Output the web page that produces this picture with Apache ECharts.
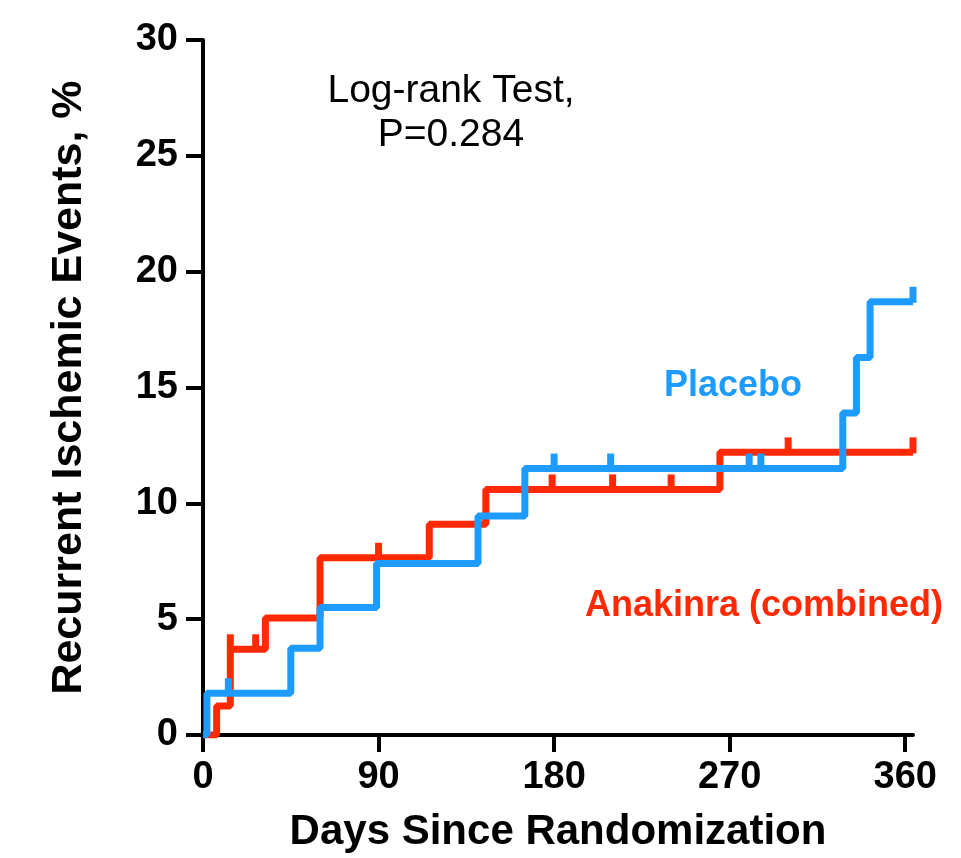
<!DOCTYPE html>
<html>
<head>
<meta charset="utf-8">
<script src="https://cdn.jsdelivr.net/npm/echarts@6/dist/echarts.min.js"></script>
<style>
html,body{margin:0;padding:0;background:#fff;}
#chart{width:961px;height:858px;}
</style>
</head>
<body>
<div id="chart"></div>
<script>
// Kaplan-Meier style cumulative event curves: [day, cumulative %]
var placeboSteps = [[0,0],[2,1.8],[45,3.75],[60,5.5],[89,7.4],[141,9.45],[165,11.5],[328,13.9],[335,16.3],[342,18.7],[364,18.7]];
var anakinraSteps = [[0,0],[7,1.25],[14,3.7],[32,5.05],[60,7.65],[116,9.1],[145,10.6],[265,12.2],[364,12.2]];
// censor marks
var placeboCensor = [[13,1.8],[180,11.5],[209,11.5],[280,11.5],[286,11.5],[364,18.7]];
var anakinraCensor = [[14,3.7],[27,3.7],[90,7.65],[179,10.6],[210,10.6],[240,10.6],[300,12.2],[364,12.2]];
var xTicks = [0,90,180,270,360];
var yTicks = [0,5,10,15,20,25,30];

var FONT = '"Liberation Sans", Arial, Helvetica, sans-serif';
var RED = '#FF2A04';
var BLUE = '#1E9BFF';

var chart = echarts.init(document.getElementById('chart'), null, {renderer:'canvas'});
chart.setOption({
  animation: false,
  backgroundColor: '#fff',
  grid: {left: 203, right: 48, top: 40, bottom: 118, containLabel: false},
  xAxis: {
    type: 'value', min: 0, max: 364, interval: 90,
    name: 'Days Since Randomization', nameLocation: 'middle', nameGap: 76,
    nameTextStyle: {fontFamily: FONT, fontWeight: 'bold', fontSize: 42, color: '#000'},
    axisLine: {show: true, lineStyle: {color: '#000', width: 4}},
    axisTick: {show: true, length: 17, lineStyle: {color: '#000', width: 4}, customValues: xTicks},
    axisLabel: {fontFamily: FONT, fontWeight: 'bold', fontSize: 38, color: '#000', margin: 24, customValues: xTicks},
    splitLine: {show: false}
  },
  yAxis: {
    type: 'value', min: 0, max: 30, interval: 5,
    name: 'Recurrent Ischemic Events, %', nameLocation: 'middle', nameGap: 112, nameRotate: 90,
    nameTextStyle: {fontFamily: FONT, fontWeight: 'bold', fontSize: 43, color: '#000'},
    axisLine: {show: true, lineStyle: {color: '#000', width: 4}},
    axisTick: {show: true, length: 17, lineStyle: {color: '#000', width: 4}, customValues: yTicks},
    axisLabel: {fontFamily: FONT, fontWeight: 'bold', fontSize: 38, color: '#000', margin: 25, customValues: yTicks},
    splitLine: {show: false}
  },
  series: [
    {type: 'line', name: 'Anakinra (combined)', step: 'end', data: anakinraSteps, showSymbol: false, symbol: 'none',
     lineStyle: {color: RED, width: 7}, z: 2},
    {type: 'scatter', data: anakinraCensor, symbol: 'rect', symbolSize: [7, 16], symbolOffset: [0, -7],
     itemStyle: {color: RED, opacity: 1}, z: 2},
    {type: 'line', name: 'Placebo', step: 'end', data: placeboSteps, showSymbol: false, symbol: 'none',
     lineStyle: {color: BLUE, width: 7}, z: 3},
    {type: 'scatter', data: placeboCensor, symbol: 'rect', symbolSize: [7, 16], symbolOffset: [0, -7],
     itemStyle: {color: BLUE, opacity: 1}, z: 3}
  ],
  graphic: [
    {type: 'text', x: 451, y: 91, style: {text: 'Log-rank Test,', font: 'normal 39px ' + FONT, fill: '#000', align: 'center', verticalAlign: 'middle'}},
    {type: 'text', x: 451, y: 135, style: {text: 'P=0.284', font: 'normal 39px ' + FONT, fill: '#000', align: 'center', verticalAlign: 'middle'}},
    {type: 'text', x: 733, y: 386, style: {text: 'Placebo', font: 'bold 36px ' + FONT, fill: BLUE, align: 'center', verticalAlign: 'middle'}},
    {type: 'text', x: 764, y: 606, style: {text: 'Anakinra (combined)', font: 'bold 36px ' + FONT, fill: RED, align: 'center', verticalAlign: 'middle'}}
  ]
});
</script>
</body>
</html>
